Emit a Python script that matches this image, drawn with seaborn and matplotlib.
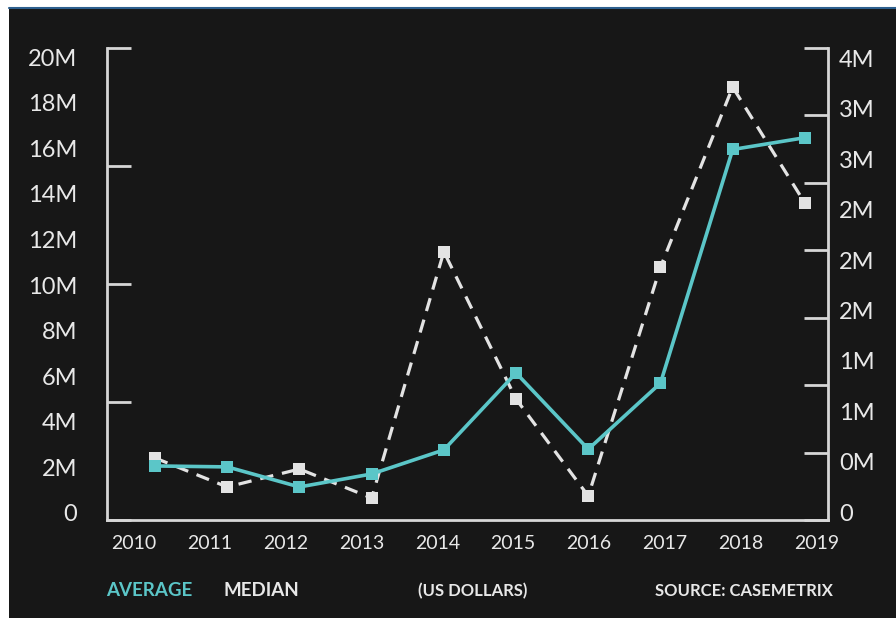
import numpy as np
import pandas as pd
import matplotlib
matplotlib.use("Agg")
import matplotlib.pyplot as plt
import seaborn as sns
from matplotlib.patches import Rectangle
from matplotlib.lines import Line2D

# ---------------- data ----------------
years = ["2010", "2011", "2012", "2013", "2014", "2015", "2016", "2017", "2018", "2019"]
average_musd = [2.29, 2.25, 1.40, 1.95, 2.97, 6.23, 3.00, 5.80, 15.70, 16.20]   # left axis (M USD)
median_musd = [0.46, 0.245, 0.378, 0.163, 1.99, 0.897, 0.178, 1.876, 3.21, 2.35]  # right axis (M USD)
left_values = [0, 2, 4, 6, 8, 10, 12, 14, 16, 18, 20]
left_labels = ["0", "2M", "4M", "6M", "8M", "10M", "12M", "14M", "16M", "18M", "20M"]
right_values = [0, 0.4, 0.8, 1.2, 1.6, 2.0, 2.4, 2.8, 3.2, 3.6]
right_labels = ["0", "0M", "1M", "1M", "2M", "2M", "2M", "3M", "3M", "4M"]

df = pd.DataFrame({"idx": np.arange(len(years)), "year": years,
                   "average": average_musd, "median": median_musd})

# ---------------- style ----------------
BG = "#171717"
TEAL = "#5bc6c8"
LIGHT = "#e3e3e3"
SPINE = "#d6d6d6"
TXT = "#e8e8e8"

sns.set_theme(style="dark")
plt.rcParams["font.family"] = ["Lato", "DejaVu Sans"]

W, H = 896, 618
fig = plt.figure(figsize=(W / 100, H / 100), dpi=100, facecolor="white")
# dark panel + thin blue rule at the top
fig.patches.append(Rectangle((9 / W, 0), 1 - 9 / W, (H - 8) / H, transform=fig.transFigure,
                             facecolor=BG, edgecolor="none", zorder=-10))
fig.lines.append(Line2D([9 / W, 1], [(H - 7.5) / H] * 2, transform=fig.transFigure,
                        color="#2d5f8e", lw=1.5, zorder=-9))

ax_l, ax_r, ax_b, ax_t = 107, 828, 520, 48
ax = fig.add_axes([ax_l / W, (H - ax_b) / H, (ax_r - ax_l) / W, (ax_b - ax_t) / H])
ax2 = ax.twinx()
for a in (ax, ax2):
    a.set_facecolor("none")
    a.grid(False)

# median (dashed) on right axis, drawn below average
sns.lineplot(data=df, x="idx", y="median", ax=ax2, color=LIGHT, lw=2.3,
             marker="s", markersize=8, markeredgewidth=0)
ax2.lines[-1].set_dashes((4.2, 2.8))
sns.lineplot(data=df, x="idx", y="average", ax=ax, color=TEAL, lw=2.6,
             marker="s", markersize=8, markeredgewidth=0)
ax2.set_zorder(1)
ax.set_zorder(2)

ax.set_xlim(-0.665, 9.32)
ax.set_ylim(0, 20)
ax2.set_ylim(0, 3.5)

# spines
for a in (ax, ax2):
    a.spines["top"].set_visible(False)
    for s in ("left", "right", "bottom"):
        a.spines[s].set_color(SPINE)
        a.spines[s].set_linewidth(2)
ax.spines["right"].set_visible(False)
ax2.spines["left"].set_visible(False)
ax2.spines["bottom"].set_visible(False)

# left axis: tick marks at 0,5,..20 ; labels spread slightly inside
ax.set_yticks([0, 5, 10, 15, 20], minor=True)
ax.set_yticks([0.297 + 0.966 * v for v in left_values])
ax.set_yticklabels(left_labels)
ax.tick_params(axis="y", which="minor", direction="in", length=17, width=2, color=SPINE)
ax.tick_params(axis="y", which="major", length=0, pad=21.5, labelsize=17, labelcolor=TXT)

# right axis
ax2.set_yticks([0.5 * i for i in range(8)], minor=True)
ax2.set_yticks([0.059 + 0.934 * v for v in right_values])
ax2.set_yticklabels(right_labels)
ax2.tick_params(axis="y", which="minor", direction="in", length=17, width=2, color=SPINE)
ax2.tick_params(axis="y", which="major", length=0, pad=8, labelsize=17, labelcolor=TXT)

# x axis
ax.set_xticks([i + 0.346 for i in range(9)], minor=True)
ax.set_xticks([-0.29 + 1.05 * k for k in range(len(years))])
ax.set_xticklabels(years)
ax.tick_params(axis="x", which="minor", direction="in", length=11, width=2, color=SPINE)
ax.tick_params(axis="x", which="major", length=0, pad=11, labelsize=14, labelcolor=TXT)
ax.set_xlabel("")
ax.set_ylabel("")
ax2.set_ylabel("")

# footer texts
fy = (H - 591) / H
fig.text(106 / W, fy, "AVERAGE", color=TEAL, fontsize=13.5, fontweight="bold", va="center", ha="left")
fig.text(223 / W, fy, "MEDIAN", color=TXT, fontsize=13.5, fontweight="bold", va="center", ha="left")
fig.text(418 / W, fy, "(US DOLLARS)", color=TXT, fontsize=12, fontweight="bold", va="center", ha="left")
fig.text(655 / W, fy, "SOURCE: CASEMETRIX", color=TXT, fontsize=12, fontweight="bold", va="center", ha="left")

fig.savefig("out.png", dpi=100, facecolor=fig.get_facecolor())
